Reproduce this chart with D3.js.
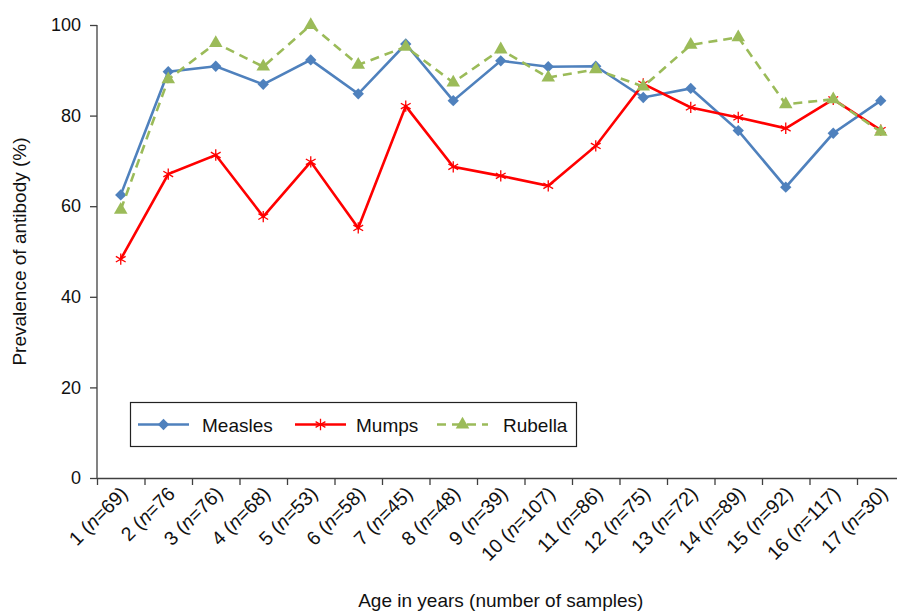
<!DOCTYPE html>
<html>
<head>
<meta charset="utf-8">
<script src="https://cdn.jsdelivr.net/npm/d3@7"></script>
<style>
  body { margin: 0; background: #fff; }
  svg { font-family: "Liberation Sans", Arial, sans-serif; }
  .axis path, .axis line { stroke: #404040; stroke-width: 1.3px; }
  .axis text { font-size: 18px; fill: #111; }
</style>
</head>
<body>
<div id="chart"></div>
<script>
var ages = ["1","2","3","4","5","6","7","8","9","10","11","12","13","14","15","16","17"];
var sampleSizes = ["69)","76","76)","68)","53)","58)","45)","48)","39)","107)","86)","75)","72)","89)","92)","117)","30)"];
var yTicks = [0, 20, 40, 60, 80, 100];

var measles = [62.5, 89.7, 90.9, 86.9, 92.3, 84.8, 95.8, 83.3, 92.1, 90.8, 90.9, 84.0, 86.0, 76.7, 64.2, 76.1, 83.3];
var mumps   = [48.3, 67.1, 71.3, 57.7, 69.8, 55.2, 82.1, 68.7, 66.7, 64.5, 73.3, 87.0, 81.8, 79.6, 77.2, 83.6, 76.8];
var rubella = [59.2, 88.0, 96.0, 90.8, 100, 91.2, 95.2, 87.3, 94.6, 88.4, 90.2, 86.4, 95.6, 97.3, 82.5, 83.6, 76.4];

var series = [
  {name: "Measles", values: measles, color: "#4F81BD", dash: null, symbol: "diamond"},
  {name: "Mumps", values: mumps, color: "#FF0000", dash: null, symbol: "asterisk"},
  {name: "Rubella", values: rubella, color: "#9BBB59", dash: "9,6", symbol: "triangle"}
];

var width = 897, height = 611;
var plotLeft = 97, plotRight = 904.5, plotTop = 25, plotBottom = 478;

var svg = d3.select("#chart").append("svg")
  .attr("width", width)
  .attr("height", height);

/* Scales */
var x = d3.scaleBand().domain(ages).range([plotLeft, plotRight]).padding(0);
var xEdge = d3.scaleLinear().domain([0, ages.length]).range([plotLeft, plotRight]);
var y = d3.scaleLinear().domain([0, 100]).range([plotBottom, plotTop]);

/* Axes */
svg.append("g")
  .attr("class", "y axis")
  .attr("transform", `translate(${plotLeft},0)`)
  .call(d3.axisLeft(y).tickValues(yTicks).tickSize(7).tickPadding(9).tickSizeOuter(0))
  .call(g => g.select(".domain").attr("d", `M0,${plotBottom}V${plotTop}`));

svg.append("g")
  .attr("class", "x axis")
  .attr("transform", `translate(0,${plotBottom})`)
  .call(d3.axisBottom(xEdge).tickValues(d3.range(ages.length + 1)).tickFormat("").tickSize(7).tickSizeOuter(0));

// rotated category labels with italic n
var labels = svg.append("g").attr("class", "x-labels");
ages.forEach(function(a, i) {
  var cx = x(a) + x.bandwidth() / 2 + 8;
  var t = labels.append("text")
    .attr("transform", `translate(${cx},${plotBottom + 17}) rotate(-45)`)
    .attr("text-anchor", "end")
    .attr("font-size", "19.5px")
    .attr("fill", "#111");
  t.append("tspan").text(a + " (");
  t.append("tspan").attr("font-style", "italic").text("n");
  t.append("tspan").text("=" + sampleSizes[i]);
});

/* Axis titles */
svg.append("text")
  .attr("x", (plotLeft + plotRight) / 2)
  .attr("y", 607)
  .attr("text-anchor", "middle")
  .attr("font-size", "19px")
  .attr("fill", "#111")
  .text("Age in years (number of samples)");

svg.append("text")
  .attr("transform", `translate(26,${(plotTop + plotBottom) / 2}) rotate(-90)`)
  .attr("text-anchor", "middle")
  .attr("font-size", "19px")
  .attr("fill", "#111")
  .text("Prevalence of antibody (%)");

/* Markers */
function drawMarker(g, type, color, cx, cy) {
  if (type === "diamond") {
    g.append("path")
      .attr("d", d3.symbol(d3.symbolSquare, 64)())
      .attr("transform", `translate(${cx},${cy}) rotate(45)`)
      .attr("fill", color);
  } else if (type === "asterisk") {
    g.append("path")
      .attr("d", d3.symbol(d3.symbolAsterisk, 90)())
      .attr("transform", `translate(${cx},${cy})`)
      .attr("fill", "none")
      .attr("stroke", color)
      .attr("stroke-width", 1.3);
  } else {
    g.append("path")
      .attr("d", d3.symbol(d3.symbolTriangle, 80)())
      .attr("transform", `translate(${cx},${cy})`)
      .attr("fill", color);
  }
}

/* Lines */
var line = d3.line()
  .x((d, i) => x(ages[i]) + x.bandwidth() / 2)
  .y(d => y(d));

var plot = svg.append("g").attr("class", "lines");

series.forEach(function(s) {
  var g = plot.append("g");
  g.append("path")
    .attr("d", line(s.values))
    .attr("fill", "none")
    .attr("stroke", s.color)
    .attr("stroke-width", 2.6)
    .attr("stroke-dasharray", s.dash);
  s.values.forEach(function(v, i) {
    drawMarker(g, s.symbol, s.color, x(ages[i]) + x.bandwidth() / 2, y(v));
  });
});

/* Legend */
var legend = svg.append("g").attr("class", "legend");
legend.append("rect")
  .attr("x", 130.5).attr("y", 402.5)
  .attr("width", 446).attr("height", 44)
  .attr("fill", "#fff")
  .attr("stroke", "#222")
  .attr("stroke-width", 1.2);

var legendPos = [{x0: 138, text: 202}, {x0: 295, text: 356}, {x0: 437, text: 503}];
series.forEach(function(s, i) {
  var p = legendPos[i];
  var ly = 424.5;
  legend.append("line")
    .attr("x1", p.x0).attr("x2", p.x0 + 51)
    .attr("y1", ly).attr("y2", ly)
    .attr("stroke", s.color)
    .attr("stroke-width", 2.6)
    .attr("stroke-dasharray", s.dash);
  drawMarker(legend, s.symbol, s.color, p.x0 + 25.5, ly);
  legend.append("text")
    .attr("x", p.text).attr("y", ly + 7)
    .attr("font-size", "19px")
    .attr("fill", "#111")
    .text(s.name);
});
</script>
</body>
</html>
